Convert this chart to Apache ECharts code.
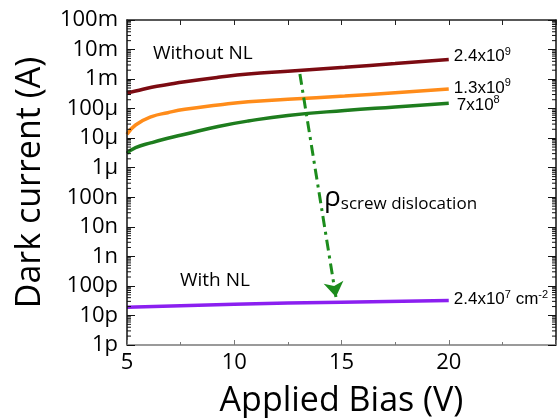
<!DOCTYPE html>
<html>
<head>
<meta charset="utf-8">
<script src="https://cdn.jsdelivr.net/npm/echarts@6/dist/echarts.min.js"></script>
<style>
  html, body { margin: 0; padding: 0; background: #fff; }
  #wrap { position: relative; width: 558px; height: 418px; }
  #chart, #frame { position: absolute; left: 0; top: 0; width: 558px; height: 418px; }
  #frame { pointer-events: none; }
</style>
</head>
<body>
<div id="wrap">
  <div id="chart"></div>
  <div id="frame"></div>
</div>
<script>
// Bias points (V) for the three high-leakage curves
const bias = [5, 5.4, 6.15, 6.9, 7.7, 9.25, 10.65, 12.5, 15.15, 17.5, 20];
// Dark current (A) without nucleation layer, by screw dislocation density
const current24e9 = [3.47e-4, 3.96e-4, 5.28e-4, 6.57e-4, 8.17e-4, 1.15e-3, 1.49e-3, 1.85e-3, 2.51e-3, 3.35e-3, 4.61e-3];
const current13e9 = [1.36e-5, 2.8e-5, 5.35e-5, 7.3e-5, 9.51e-5, 1.33e-4, 1.72e-4, 2.07e-4, 2.68e-4, 3.47e-4, 4.62e-4];
const current7e8  = [3.08e-6, 4.77e-6, 7.05e-6, 9.93e-6, 1.36e-5, 2.49e-5, 3.82e-5, 5.86e-5, 8.65e-5, 1.14e-4, 1.52e-4];
// Dark current (A) with nucleation layer
const biasNL = [5, 10, 15, 20];
const current24e7 = [1.9e-11, 2.4e-11, 2.8e-11, 3.2e-11];

// Axis ranges and tick labels
const xMin = 5, xMax = 25, xStep = 5;
const yMin = 1e-12, yMax = 1e-1;
const yTickLabels = ['1p', '10p', '100p', '1n', '10n', '100n', '1\u00b5', '10\u00b5', '100\u00b5', '1m', '10m', '100m'];

// Arrow across the curves: start and end points (V, A)
const arrowFrom = [13.06, 1.5e-3];
const arrowTo = [14.74, 4.2e-11];

const pair = (xs, ys) => xs.map((x, i) => [x, ys[i]]);

// Log-decade minor tick positions (2..9 within each decade)
const minorTicks = [];
for (let e = -12; e < -1; e++) {
  for (let k = 2; k <= 9; k++) minorTicks.push([xMin, k * Math.pow(10, e)]);
}

const FONT = '"Open Sans", sans-serif';
const ARIAL = '"Liberation Sans", Arial, sans-serif';
const INK = '#000';
const GRID = { left: 127, right: 2, top: 20, bottom: 73, outerBoundsMode: 'none' };

const supRich = {
  b: { fontFamily: ARIAL, fontSize: 17, color: INK },
  s: { fontFamily: ARIAL, fontSize: 11, color: INK, verticalAlign: 'top', padding: [0, 0, 10, 0] }
};

function endLabel(text, offset) {
  return { show: true, distance: 5, offset: offset, formatter: text, rich: supRich };
}

function curve(name, data, color, label) {
  return {
    name: name,
    type: 'line',
    data: data,
    smooth: 0.5,
    symbol: 'none',
    lineStyle: { color: color, width: 3.5 },
    endLabel: label,
    z: 3
  };
}

// ---- curves, labels and titles ----
const chart = echarts.init(document.getElementById('chart'));
chart.setOption({
  animation: false,
  grid: GRID,
  xAxis: {
    type: 'value',
    min: xMin, max: xMax, interval: xStep,
    name: 'Applied Bias (V)',
    nameLocation: 'middle',
    nameGap: 39,
    nameTextStyle: { fontFamily: FONT, fontSize: 34, color: INK },
    axisLine: { show: false, onZero: false },
    axisTick: { show: false },
    axisLabel: {
      fontFamily: FONT, fontSize: 22, color: INK, margin: 7,
      formatter: v => (v === xMax ? '' : String(v))
    },
    splitLine: { show: false }
  },
  yAxis: {
    type: 'log',
    logBase: 10,
    min: yMin, max: yMax,
    interval: 1,
    name: 'Dark current (A)',
    nameLocation: 'middle',
    nameGap: 80,
    nameTextStyle: { fontFamily: FONT, fontSize: 34, color: INK },
    axisLine: { show: false, onZero: false },
    axisTick: { show: false },
    axisLabel: {
      fontFamily: FONT, fontSize: 22, color: INK, margin: 9,
      formatter: v => yTickLabels[Math.round(Math.log10(v)) + 12]
    },
    splitLine: { show: false }
  },
  series: [
    curve('2.4x10^9', pair(bias, current24e9), '#7c0b12', endLabel('{b|2.4x10}{s|9}', [0, -3])),
    curve('1.3x10^9', pair(bias, current13e9), '#ff8c1a', endLabel('{b|1.3x10}{s|9}', [0, -1])),
    curve('7x10^8', pair(bias, current7e8), '#1e7d1e', endLabel('{b|7x10}{s|8}', [3, 2])),
    Object.assign(curve('2.4x10^7', pair(biasNL, current24e7), '#8b1ff0', endLabel('{b|2.4x10}{s|7}{b| cm}{s|-2}', [0, -1])), {
      // dash-dot arrow pointing towards lower dislocation density
      markLine: {
        silent: true,
        symbol: ['none', 'arrow'],
        symbolSize: 15,
        label: { show: false },
        lineStyle: { color: '#1c8c1c', width: 3, type: [11, 5, 3, 5], opacity: 1 },
        itemStyle: { color: '#1c8c1c' },
        data: [[{ coord: arrowFrom }, { coord: arrowTo }]]
      }
    })
  ],
  graphic: [
    {
      type: 'text', left: 153, top: 44,
      style: { text: 'Without NL', fontFamily: FONT, fontSize: 19, fill: INK }
    },
    {
      type: 'text', left: 180, top: 271,
      style: { text: 'With NL', fontFamily: FONT, fontSize: 19, fill: INK }
    },
    {
      type: 'text', left: 324, top: 184,
      style: {
        text: '{r|\u03c1}{s|screw dislocation}',
        rich: {
          r: { fontFamily: FONT, fontSize: 28, color: INK },
          s: { fontFamily: FONT, fontSize: 17, color: INK, verticalAlign: 'bottom', padding: [12, 0, 0, 0] }
        }
      }
    }
  ]
});

// ---- plot frame: four axis lines with inward ticks, same grid ----
function minorTickSeries(xAt, dir) {
  return {
    type: 'custom',
    clip: false,
    data: minorTicks,
    renderItem: function (params, api) {
      const p = api.coord([xAt, api.value(1)]);
      return {
        type: 'line',
        shape: { x1: p[0], y1: p[1], x2: p[0] + 4 * dir, y2: p[1] },
        style: { stroke: '#111', lineWidth: 1 }
      };
    }
  };
}

const frame = echarts.init(document.getElementById('frame'));
frame.setOption({
  animation: false,
  grid: GRID,
  xAxis: [{
    type: 'value', min: xMin, max: xMax, interval: xStep,
    axisLine: { show: true, onZero: false, lineStyle: { color: '#7a7a7a', width: 1.5 } },
    axisTick: { show: true, inside: true, length: 5 },
    minorTick: { show: true, splitNumber: 2, length: 3 },
    axisLabel: { show: false },
    splitLine: { show: false }
  }, {
    type: 'value', position: 'top', min: xMin, max: xMax, interval: xStep,
    axisLine: { show: true, onZero: false, lineStyle: { color: '#222', width: 1.5 } },
    axisTick: { show: true, inside: true, length: 5 },
    minorTick: { show: true, splitNumber: 2, length: 5 },
    axisLabel: { show: false },
    splitLine: { show: false }
  }],
  yAxis: [{
    type: 'log', min: yMin, max: yMax, interval: 1,
    axisLine: { show: true, onZero: false, lineStyle: { color: '#111', width: 1.5 } },
    axisTick: { show: true, inside: true, length: 8 },
    axisLabel: { show: false },
    splitLine: { show: false }
  }, {
    type: 'log', position: 'right', min: yMin, max: yMax, interval: 1,
    axisLine: { show: true, onZero: false, lineStyle: { color: '#111', width: 1.5 } },
    axisTick: { show: true, inside: true, length: 8 },
    axisLabel: { show: false },
    splitLine: { show: false }
  }],
  series: [minorTickSeries(xMin, 1), minorTickSeries(xMax, -1)]
});
</script>
</body>
</html>
